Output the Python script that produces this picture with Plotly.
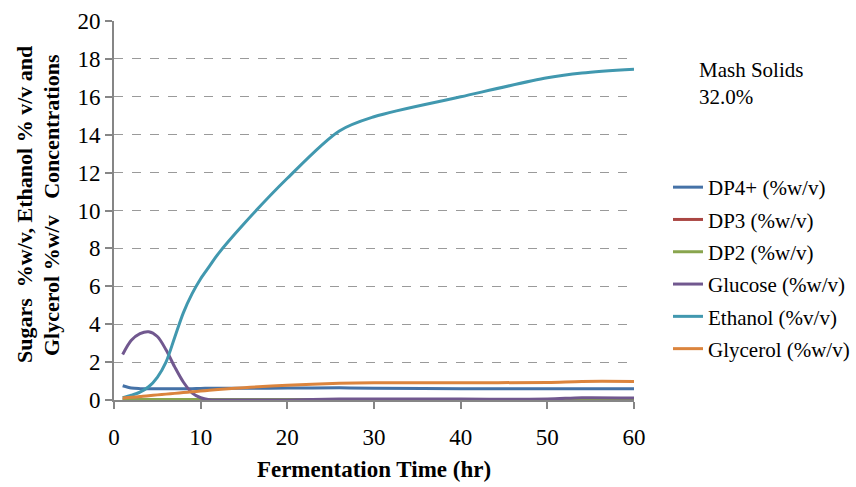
import plotly.graph_objects as go

time_hr = [1, 2, 3, 4, 5, 6, 7, 8, 9, 10, 11, 12, 15, 20, 26, 30, 40, 50, 54, 60]
dp4 = [0.75, 0.63, 0.6, 0.6, 0.6, 0.6, 0.6, 0.6, 0.6, 0.61, 0.62, 0.62, 0.62, 0.63, 0.64, 0.62, 0.6, 0.6, 0.6, 0.6]
dp3 = [0.01] * 20
dp2 = [0.03, 0.02, 0.02, 0.02, 0.02, 0.02, 0.02, 0.02, 0.02, 0.02, 0.02, 0.02, 0.02, 0.02, 0.02, 0.02, 0.02, 0.02, 0.02, 0.02]
glucose = [2.4, 3.15, 3.5, 3.6, 3.35, 2.65, 1.75, 0.95, 0.38, 0.12, 0.02, 0.0, 0.0, 0.0, 0.05, 0.05, 0.05, 0.05, 0.12, 0.1]
ethanol = [0.12, 0.25, 0.42, 0.7, 1.2, 2.0, 3.3, 4.6, 5.6, 6.4, 7.05, 7.7, 9.3, 11.7, 14.2, 14.95, 16.0, 17.0, 17.25, 17.45]
glycerol = [0.1, 0.14, 0.18, 0.22, 0.27, 0.31, 0.35, 0.39, 0.43, 0.47, 0.51, 0.55, 0.65, 0.78, 0.88, 0.91, 0.91, 0.93, 0.98, 0.98]

series = [
    ("DP4+ (%w/v)", dp4, "#4572A7"),
    ("DP3 (%w/v)", dp3, "#AA4643"),
    ("DP2 (%w/v)", dp2, "#89A54E"),
    ("Glucose (%w/v)", glucose, "#71588F"),
    ("Ethanol (%v/v)", ethanol, "#4198AF"),
    ("Glycerol (%w/v)", glycerol, "#DB843D"),
]

ytitle_lines = ["Sugars  %w/v, Ethanol % v/v and", "Glycerol %w/v&nbsp;&nbsp;&nbsp;Concentrations"]

FONT = "Liberation Serif"
L, R, T, B = 114, 222, 21, 87
W, H = 856, 487
pw, ph = W - L - R, H - T - B


def px_x(p):
    return (p - L) / pw


def px_y(p):
    return (H - B - p) / ph


fig = go.Figure()
for name, vals, col in series:
    fig.add_trace(go.Scatter(
        x=time_hr, y=vals, name=name, mode="lines",
        line=dict(color=col, width=3, shape="spline", smoothing=0.9),
        legendgroup=name,
    ))

annotations = [dict(text="Mash Solids<br>32.0%", x=px_x(697), y=px_y(83),
                    xref="paper", yref="paper",
                    showarrow=False, align="left", xanchor="left", yanchor="middle",
                    font=dict(family=FONT, size=21, color="black"))]
for xc, line in zip([25, 52], ytitle_lines):
    annotations.append(dict(text=f"<b>{line}</b>", x=px_x(xc), y=px_y(205), xref="paper", yref="paper",
                            textangle=-90, showarrow=False, xanchor="center", yanchor="middle",
                            font=dict(family=FONT, size=22, color="black")))

fig.update_layout(
    width=W, height=H,
    margin=dict(l=L, r=R, t=T, b=B, autoexpand=False),
    paper_bgcolor="white", plot_bgcolor="white",
    font=dict(family=FONT, size=21, color="black"),
    showlegend=True,
    legend=dict(x=px_x(668), y=px_y(167), xanchor="left", yanchor="top",
                font=dict(family=FONT, size=21, color="black"), tracegroupgap=2,
                itemwidth=30, bgcolor="rgba(0,0,0,0)"),
    xaxis=dict(range=[0, 60], tickvals=[0, 10, 20, 30, 40, 50, 60], automargin=False,
               showgrid=False, zeroline=False, showline=True,
               linecolor="#868686", linewidth=2, ticks="outside",
               ticklen=7, tickcolor="#868686", tickwidth=2, ticklabelstandoff=8,
               tickfont=dict(family=FONT, size=23, color="black"),
               title=dict(text="<b>Fermentation Time (hr)</b>",
                          font=dict(family=FONT, size=23, color="black"), standoff=12)),
    yaxis=dict(range=[0, 20], tickvals=list(range(0, 21, 2)), automargin=False,
               showgrid=True, gridcolor="#9a9a9a", griddash="dash", gridwidth=1,
               zeroline=False, showline=True,
               linecolor="#868686", linewidth=2, ticks="outside",
               ticklen=7, tickcolor="#868686", tickwidth=2,
               tickfont=dict(family=FONT, size=23, color="black")),
    annotations=annotations,
)

fig.write_html("out.html")
